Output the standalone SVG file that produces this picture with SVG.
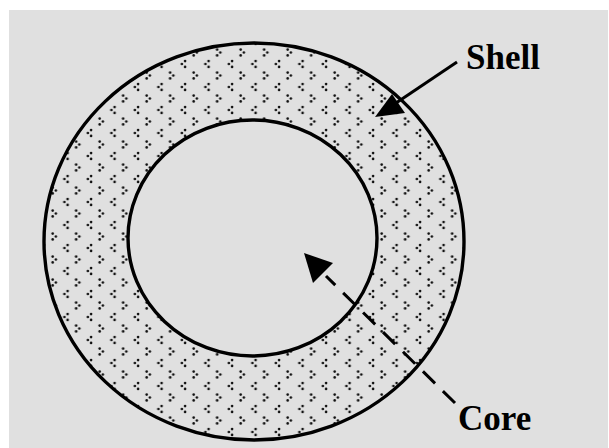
<svg xmlns="http://www.w3.org/2000/svg" width="609" height="448" viewBox="0 0 609 448">
<style>
.lbl{font-family:"Liberation Serif","Times New Roman",serif;font-weight:bold;font-size:35px;fill:#000}
.edge{stroke:#000;stroke-width:3;fill:none}
.dot{fill:#111}
</style>
<defs>
<pattern id="dots" patternUnits="userSpaceOnUse" x="0" y="0" width="23.5" height="23">
<rect width="23.5" height="23" fill="#e0e0e0"/>
<circle class="dot" cx="17.4" cy="18" r="1.3"/>
<circle class="dot" cx="20.6" cy="15.1" r="1.3"/>
<circle class="dot" cx="20.6" cy="20.9" r="1.3"/>
<circle class="dot" cx="8.85" cy="6.5" r="1.3"/>
<circle class="dot" cx="5.65" cy="3.6" r="1.3"/>
<circle class="dot" cx="5.65" cy="9.4" r="1.3"/>
</pattern>
</defs>
<rect x="0" y="0" width="609" height="448" fill="#ffffff"/>
<rect x="9" y="10" width="599" height="438" fill="#e0e0e0"/>
<g id="shell">
<ellipse cx="254" cy="241.5" rx="210" ry="198.5" fill="url(#dots)" stroke="#000" stroke-width="3.4"/>
</g>
<g id="core">
<ellipse cx="252.5" cy="238" rx="124.5" ry="118" fill="#e0e0e0" stroke="#000" stroke-width="3.4"/>
</g>
<g id="connectors">
<line class="edge" x1="457" y1="62" x2="396" y2="103"/>
<polygon points="375,117 392,94 405,113" fill="#000"/>
<line class="edge" x1="455" y1="403" x2="326" y2="276" stroke-dasharray="17 11"/>
<polygon points="304,253 333,263 313,283" fill="#000"/>
</g>
<g id="label-shell"><text class="lbl" x="466" y="69">Shell</text></g>
<g id="label-core"><text class="lbl" x="458" y="430">Core</text></g>
</svg>
